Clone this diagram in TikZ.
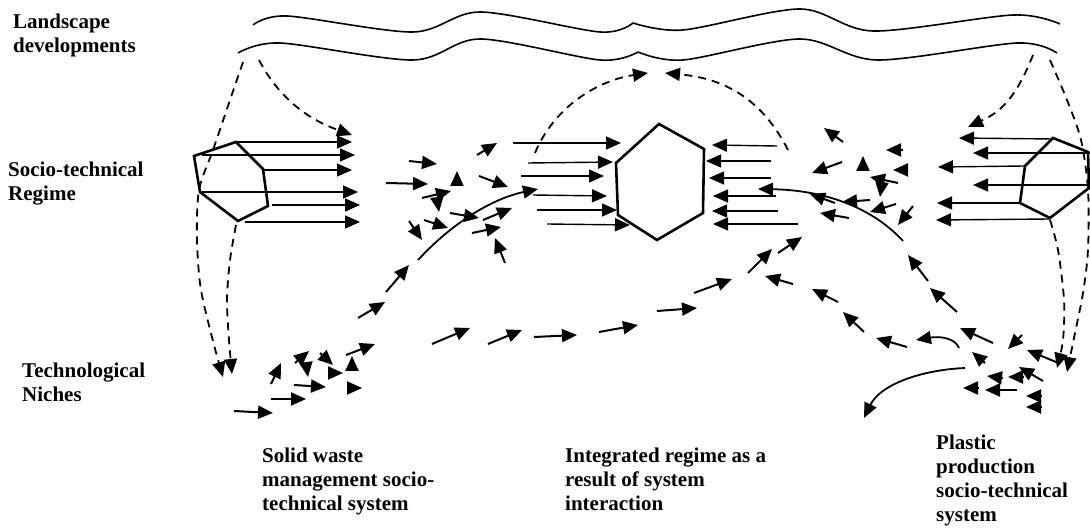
\documentclass[tikz,border=0pt]{standalone}
\usepackage{fontspec}
\setmainfont{Liberation Serif}
\usetikzlibrary{arrows.meta}
\begin{document}
\begin{tikzpicture}[x=1pt,y=-1pt,
  >={Triangle[length=15pt,width=13pt]},
  hexline/.style={line width=2.6pt, line join=miter},
  harrow/.style={line width=1.4pt,->},
  sarrow/.style={line width=2pt,->},
  darrow/.style={line width=1.8pt,dash pattern=on 8pt off 6pt,->},
  wave/.style={line width=1.6pt},
  curve/.style={line width=1.8pt},
  lbl/.style={font=\fontsize{21}{24}\selectfont\bfseries, align=left, anchor=base west, inner sep=0pt}]
\useasboundingbox (0,0) rectangle (1090,529);

% labels (anchor = baseline of last line)
\node[lbl] (land) at (13,53) {Landscape\\developments};
\node[lbl] (regime) at (8,201) {Socio-technical\\Regime};
\node[lbl] (niche) at (22,401) {Technological\\Niches};
\node[lbl] (sw) at (262,510) {Solid waste\\management socio-\\technical system};
\node[lbl] (ir) at (565,510) {Integrated regime as a\\result of system\\interaction};
\node[lbl] (pp) at (936,521) {Plastic\\production\\socio-technical\\system};

% landscape waves
\draw[wave] plot[smooth] coordinates {(253,25) (287,16) (413,32) (480,12) (600,32) (633,23)};
\draw[wave] plot[smooth] coordinates {(633,23) (683,30) (800,9) (873,31) (1013,15) (1060,24)};
\draw[wave] plot[smooth] coordinates {(238,53) (280,43) (413,60) (480,39) (600,60) (638,52)};
\draw[wave] plot[smooth] coordinates {(638,52) (683,60) (800,39) (877,60) (1017,43) (1057,53)};

% hexagons
\draw[hexline] (194,156) -- (236,142) -- (263,169) -- (268,206) -- (238,221) -- (200,192) -- cycle;
\draw[hexline] (659,124) -- (704,149) -- (703,213) -- (657,240) -- (618,215) -- (616,163) -- cycle;
\draw[hexline] (1025,166) -- (1053,138) -- (1088,152) -- (1089,188) -- (1050,218) -- (1020,203) -- cycle;

% left regime arrows
\draw[harrow] (236,142) -- (352,142);
\draw[harrow] (202,155) -- (355,155);
\draw[harrow] (263,170) -- (352,170);
\draw[harrow] (200,192) -- (358,192);
\draw[harrow] (272,205) -- (360,205);
\draw[harrow] (245,222) -- (360,222);

% central arrows
\draw[harrow] (513,143) -- (621,143);
\draw[harrow] (528,163) -- (613,162);
\draw[harrow] (521,176) -- (604,176);
\draw[harrow] (533,195) -- (607,196);
\draw[harrow] (537,210) -- (617,210);
\draw[harrow] (547,224) -- (630,225);
\draw[harrow] (777,146) -- (712,145);
\draw[harrow] (771,161) -- (706,161);
\draw[harrow] (771,178) -- (709,178);
\draw[harrow] (776,196) -- (713,196);
\draw[harrow] (778,211) -- (712,211);
\draw[harrow] (798,224) -- (713,224);

% right regime arrows
\draw[harrow] (1053,139) -- (959,138);
\draw[harrow] (1090,153) -- (973,153);
\draw[harrow] (1025,166) -- (938,167);
\draw[harrow] (1090,185) -- (973,185);
\draw[harrow] (1020,203) -- (937,203);
\draw[harrow] (1050,219) -- (936,220);

% dashed landscape arrows
\draw[darrow] (259,60) .. controls (280,100) and (310,120) .. (352,135);
\draw[darrow] plot[smooth] coordinates {(243,62) (230,100) (213,150) (199,190) (197,240) (201,290) (214,345) (223,377)};
\draw[darrow] plot[smooth] coordinates {(236,225) (230,260) (227,300) (229,340) (232,374)};
\draw[darrow] (1033,55) .. controls (1015,100) and (1000,112) .. (968,127);
\draw[darrow] plot[smooth] coordinates {(1050,60) (1067,100) (1081,140) (1088,190) (1088,250) (1083,293) (1075,333) (1067,372)};
\draw[darrow] plot[smooth] coordinates {(1050,220) (1058,250) (1064,300) (1063,340) (1057,368)};
\draw[darrow] (535,153) .. controls (555,105) and (600,80) .. (648,73);
\draw[darrow] (788,150) .. controls (760,95) and (720,78) .. (665,73);

% solid curves
\draw[curve,->] (418,260) .. controls (455,220) and (495,198) .. (538,189);
\draw[curve,->] (903,241) .. controls (870,205) and (820,190) .. (758,189);
\draw[curve,->] (959,348) .. controls (955,338) and (940,336) .. (916,340);
\draw[curve,->] (965,368) .. controls (920,370) and (880,385) .. (864,418);

% lower-left niche cluster
\draw[sarrow] (234,411) -- (273,413);
\draw[sarrow] (271,399) -- (306,399);
\draw[sarrow] (294,385) -- (326,387);
\draw[sarrow] (271,384) -- (281,363);
\draw[sarrow] (295,363) -- (309,351);
\draw[sarrow] (306,363) -- (308,377);
\draw[sarrow] (320,353) -- (333,365);
\draw[sarrow] (328,373) -- (343,373);
\draw[sarrow] (346,355) -- (375,344);
\draw[sarrow] (352,370) -- (352,356);
\draw[sarrow] (347,388) -- (362,388);

% chain from niches upward (left)
\draw[sarrow] (358,318) -- (385,302);
\draw[sarrow] (386,292) -- (409,265);
% chain across the middle
\draw[sarrow] (432,344) -- (470,328);
\draw[sarrow] (488,344) -- (522,330);
\draw[sarrow] (534,337) -- (577,335);
\draw[sarrow] (599,332) -- (638,325);
\draw[sarrow] (657,311) -- (697,308);
\draw[sarrow] (694,293) -- (732,279);
\draw[sarrow] (748,273) -- (772,249);
\draw[sarrow] (778,253) -- (802,237);

% chain from plastic niches (right)
\draw[sarrow] (793,284) -- (765,276);
\draw[sarrow] (838,302) -- (812,289);
\draw[sarrow] (864,332) -- (843,312);
\draw[sarrow] (907,347) -- (876,338);
\draw[sarrow] (993,343) -- (960,328);
\draw[sarrow] (957,312) -- (930,288);
\draw[sarrow] (928,281) -- (908,255);
\draw[sarrow] (1022,335) -- (1008,349);
\draw[sarrow] (1056,362) -- (1027,350);
\draw[sarrow] (985,363) -- (972,352);
\draw[sarrow] (1003,378) -- (987,376);
\draw[sarrow] (1023,377) -- (1008,377);
\draw[sarrow] (1043,381) -- (1019,367);
\draw[sarrow] (1017,390) -- (985,390);
\draw[sarrow] (979,388) -- (963,388);
\draw[sarrow] (1041,396) -- (1026,396);
\draw[sarrow] (1041,407) -- (1026,407);

% upper-left cluster
\draw[sarrow] (409,161) -- (437,164);
\draw[sarrow] (386,183) -- (428,184);
\draw[sarrow] (457,185) -- (457,171);
\draw[sarrow] (479,176) -- (508,187);
\draw[sarrow] (477,155) -- (497,143);
\draw[sarrow] (422,198) -- (451,191);
\draw[sarrow] (437,198) -- (439,212);
\draw[sarrow] (424,220) -- (448,228);
\draw[sarrow] (450,213) -- (479,218);
\draw[sarrow] (409,221) -- (422,240);
\draw[sarrow] (483,220) -- (512,208);
\draw[sarrow] (472,233) -- (501,227);
\draw[sarrow] (505,263) -- (495,238);

% upper-right cluster
\draw[sarrow] (843,142) -- (824,128);
\draw[sarrow] (903,150) -- (886,150);
\draw[sarrow] (842,162) -- (812,173);
\draw[sarrow] (863,171) -- (863,156);
\draw[sarrow] (907,170) -- (893,170);
\draw[sarrow] (898,183) -- (870,177);
\draw[sarrow] (882,182) -- (880,197);
\draw[sarrow] (870,200) -- (842,202);
\draw[sarrow] (896,204) -- (870,212);
\draw[sarrow] (913,206) -- (898,225);
\draw[sarrow] (849,218) -- (820,213);
\draw[sarrow] (835,203) -- (810,194);
\end{tikzpicture}
\end{document}
